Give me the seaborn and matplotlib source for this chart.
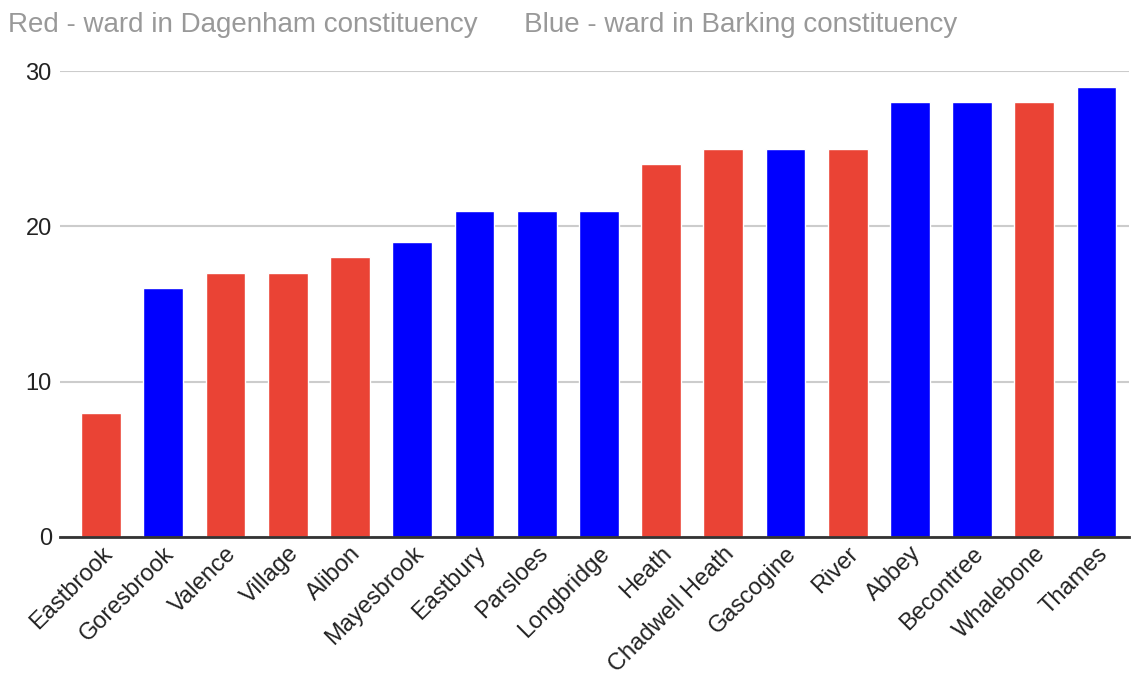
import matplotlib
matplotlib.use("Agg")
import matplotlib.pyplot as plt
import seaborn as sns
import pandas as pd

wards = ["Eastbrook", "Goresbrook", "Valence", "Village", "Alibon", "Mayesbrook",
         "Eastbury", "Parsloes", "Longbridge", "Heath", "Chadwell Heath", "Gascogine",
         "River", "Abbey", "Becontree", "Whalebone", "Thames"]
values = [8, 16, 17, 17, 18, 19, 21, 21, 21, 24, 25, 25, 25, 28, 28, 28, 29]
constituency = ["Dagenham", "Barking", "Dagenham", "Dagenham", "Dagenham", "Barking",
                "Barking", "Barking", "Barking", "Dagenham", "Dagenham", "Barking",
                "Dagenham", "Barking", "Barking", "Dagenham", "Barking"]
yticks = [0, 10, 20, 30]

palette = {"Dagenham": "#EA4335", "Barking": "#0000FF"}

df = pd.DataFrame({"ward": wards, "value": values, "constituency": constituency})

sns.set_theme(style="white")
plt.rcParams["font.family"] = ["Liberation Sans", "DejaVu Sans"]

fig = plt.figure(figsize=(11.34, 6.81), dpi=100)
ax = fig.add_axes([0.053, 0.2115, 0.943, 0.6842])

sns.barplot(data=df, x="ward", y="value", hue="constituency", palette=palette,
            dodge=False, width=0.64, legend=False, ax=ax, saturation=1)

ax.set_ylim(0, 30)
ax.set_xlim(-0.66, 16.53)
ax.set_yticks(yticks)
ax.yaxis.grid(True, color="#cccccc", linewidth=1.5)
ax.set_axisbelow(True)
for s in ["top", "right", "left"]:
    ax.spines[s].set_visible(False)
ax.spines["bottom"].set_color("#333333")
ax.spines["bottom"].set_linewidth(2)
ax.set_xlabel("")
ax.set_ylabel("")
ax.tick_params(axis="y", labelsize=17, colors="#222222", length=0, pad=6)
ax.tick_params(axis="x", labelsize=17, colors="#222222", length=0, pad=4)
plt.setp(ax.get_xticklabels(), rotation=45, ha="right", rotation_mode="anchor")

fig.text(0.007, 0.982, "Red - ward in Dagenham constituency      Blue - ward in Barking constituency",
         color="#999999", fontsize=20, ha="left", va="top")

fig.savefig("out.png", dpi=100)
